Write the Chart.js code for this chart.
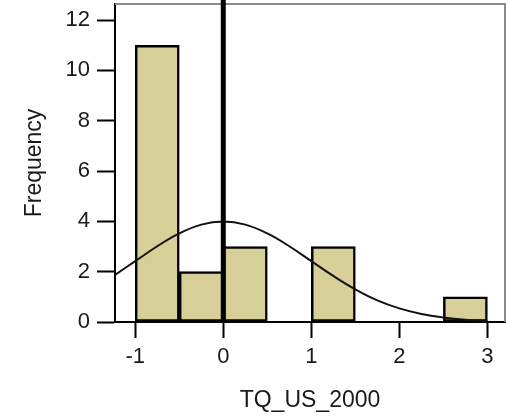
<!DOCTYPE html>
<html>
<head>
<meta charset="utf-8">
<script src="https://cdn.jsdelivr.net/npm/chart.js@4"></script>
<style>
  html, body { margin: 0; padding: 0; background: #fff; }
  #wrap { width: 506px; height: 420px; }
</style>
</head>
<body>
<div id="wrap"><canvas id="hist"></canvas></div>
<script>
//Data histogram TQ_US_2000//
const binCenters = [-0.75, -0.25, 0.25, 1.25, 2.75];
const binCounts = [11, 2, 3, 3, 1];

// normal curve
const curveX = [-1.23, -1, -0.75, -0.5, -0.25, 0, 0.25, 0.5, 0.75, 1, 1.25, 1.5, 1.75, 2, 2.25, 2.5, 2.75, 3];
const curveY = [1.87, 2.42, 3.01, 3.52, 3.87, 3.99, 3.87, 3.52, 3.01, 2.42, 1.83, 1.30, 0.86, 0.54, 0.32, 0.18, 0.09, 0.04];

const refLineX = [0, 0];
const refLineY = [0, 12.85];

const xTicks = [-1, 0, 1, 2, 3];
const yTicks = [0, 2, 4, 6, 8, 10, 12];

const fontFam = "'Liberation Sans', Arial, sans-serif";

const framePlugin = {
  id: "frame",
  beforeDatasetsDraw(chart) {
    const a = chart.chartArea;
    const ctx = chart.ctx;
    ctx.save();
    ctx.strokeStyle = "#8a8a8a";
    ctx.lineWidth = 2;
    ctx.beginPath();
    ctx.moveTo(a.left, a.top);
    ctx.lineTo(a.right, a.top);
    ctx.lineTo(a.right, a.bottom);
    ctx.stroke();
    ctx.restore();
  }
};

const data = {
  datasets: [
    {
      type: "line",
      label: "ref",
      data: refLineX.map((v, i) => ({ x: v, y: refLineY[i] })),
      borderColor: "#000",
      borderWidth: 5,
      pointRadius: 0,
      clip: false,
      order: 1
    },
    {
      type: "line",
      label: "Normal",
      data: curveX.map((v, i) => ({ x: v, y: curveY[i] })),
      borderColor: "#111",
      borderWidth: 2,
      pointRadius: 0,
      tension: 0.4,
      order: 2
    },
    {
      type: "bar",
      label: "Frequency",
      data: binCenters.map((v, i) => ({ x: v, y: binCounts[i] })),
      backgroundColor: "rgb(214,208,152)",
      borderColor: "#000",
      borderWidth: 2.5,
      borderSkipped: false,
      barPercentage: 1,
      categoryPercentage: 1,
      order: 3
    }
  ]
};

const config = {
  type: "bar",
  data: data,
  plugins: [framePlugin],
  options: {
    responsive: true,
    maintainAspectRatio: false,
    animation: false,
    layout: { padding: { top: 4, right: 1, left: 0, bottom: 0 } },
    plugins: {
      legend: { display: false },
      tooltip: { enabled: false }
    },
    scales: {
      x: {
        type: "linear",
        min: -1.23,
        max: 3.2,
        offset: false,
        afterBuildTicks: (s) => { s.ticks = xTicks.map((v) => ({ value: v })); },
        afterFit: (s) => { s.height = 98; s.paddingLeft = 0; s.paddingRight = 0; },
        border: { color: "#000", width: 2 },
        grid: { offset: false, drawOnChartArea: false, drawTicks: true, tickLength: 16, tickWidth: 2, tickColor: "#000" },
        ticks: { color: "#1a1a1a", padding: 6, font: { family: fontFam, size: 22 } },
        title: {
          display: true,
          text: "TQ_US_2000",
          color: "#1a1a1a",
          font: { family: fontFam, size: 23 },
          padding: { top: 0, bottom: 6 }
        }
      },
      y: {
        min: 0,
        max: 12.64,
        afterBuildTicks: (s) => { s.ticks = yTicks.map((v) => ({ value: v })); },
        afterFit: (s) => { s.width = 115; s.paddingTop = 0; s.paddingBottom = 0; },
        border: { color: "#000", width: 2 },
        grid: { offset: false, drawOnChartArea: false, drawTicks: true, tickLength: 18, tickWidth: 2, tickColor: "#000" },
        ticks: { color: "#1a1a1a", padding: 7, font: { family: fontFam, size: 22 } },
        title: {
          display: true,
          text: "Frequency",
          color: "#1a1a1a",
          font: { family: fontFam, size: 23 },
          padding: { top: 21, bottom: 0 }
        }
      }
    }
  }
};

const histChart = new Chart(document.getElementById("hist").getContext("2d"), config);
//Akhir histogram//
</script>
</body>
</html>
